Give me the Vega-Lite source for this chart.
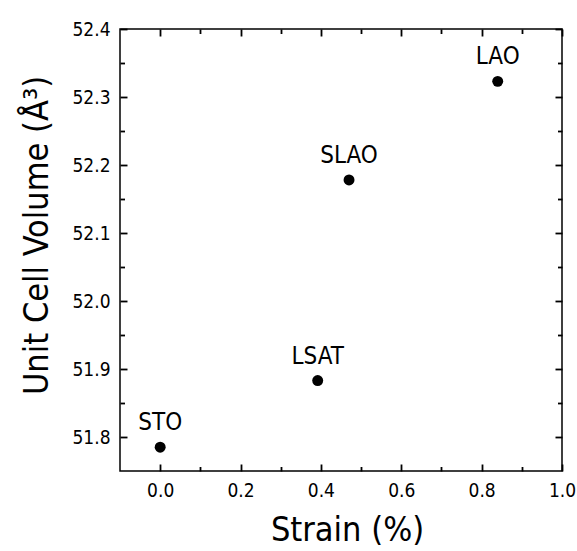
{
  "$schema": "https://vega.github.io/schema/vega-lite/v6.json",
  "width": 442,
  "height": 442,
  "autosize": {"type": "none"},
  "padding": {"left": 120, "top": 29, "right": 15, "bottom": 80},
  "background": "white",
  "config": {
    "view": {"stroke": "black", "strokeWidth": 1.5},
    "font": "DejaVu Sans Condensed, Liberation Sans, sans-serif",
    "axis": {
      "labelFont": "DejaVu Sans Condensed, Liberation Sans, sans-serif",
      "titleFont": "DejaVu Sans Condensed, Liberation Sans, sans-serif",
      "labelColor": "black",
      "titleColor": "black",
      "grid": false,
      "labelFlush": false,
      "labelOverlap": false
    }
  },
  "data": {
    "values": [
      {"label": "STO", "strain": 0.0, "volume": 51.785},
      {"label": "LSAT", "strain": 0.392, "volume": 51.883},
      {"label": "SLAO", "strain": 0.47, "volume": 52.178},
      {"label": "LAO", "strain": 0.84, "volume": 52.323}
    ]
  },
  "layer": [
    {
      "mark": {"type": "circle", "size": 120, "color": "black", "opacity": 1},
      "encoding": {
        "x": {
          "field": "strain", "type": "quantitative",
          "scale": {"domain": [-0.1, 1.0], "nice": false, "zero": false},
          "axis": {
            "orient": "bottom",
            "ticks": true, "tickSize": -7, "tickColor": "#000000", "tickWidth": 1.8,
            "domain": false,
            "title": "Strain (%)",
            "titleFontSize": 34,
            "titleFontWeight": "normal",
            "titleX": 227,
            "titleY": 69,
            "titleBaseline": "alphabetic",
            "titleAnchor": null,
            "titleAlign": "center",
            "labelFontSize": 19,
            "labelPadding": 17,
            "values": [0, 0.2, 0.4, 0.6, 0.8, 1.0],
            "format": ".1f"
          }
        },
        "y": {
          "field": "volume", "type": "quantitative",
          "scale": {"domain": [51.75, 52.4], "nice": false, "zero": false},
          "axis": {
            "orient": "left",
            "ticks": true, "tickSize": -7, "tickColor": "#000000", "tickWidth": 1.8,
            "domain": false,
            "title": "Unit Cell Volume (Å³)",
            "titleFontSize": 34,
            "titleFontWeight": "normal",
            "titleX": -73,
            "titleY": 206,
            "titleAngle": -90,
            "titleBaseline": "alphabetic",
            "titleAnchor": null,
            "titleAlign": "center",
            "labelFontSize": 19,
            "labelPadding": 17,
            "values": [51.8, 51.9, 52.0, 52.1, 52.2, 52.3, 52.4],
            "format": ".1f"
          }
        }
      }
    },
    {
      "mark": {"type": "text", "dy": -17, "baseline": "alphabetic", "align": "center", "fontSize": 24, "color": "black"},
      "encoding": {
        "x": {
          "field": "strain", "type": "quantitative",
          "scale": {"domain": [-0.1, 1.0], "nice": false, "zero": false},
          "axis": {
            "orient": "top",
            "ticks": true, "tickSize": -7, "tickColor": "#000000", "tickWidth": 1.8,
            "domain": false, "title": null, "labels": false,
            "values": [0, 0.2, 0.4, 0.6, 0.8, 1.0]
          }
        },
        "y": {
          "field": "volume", "type": "quantitative",
          "scale": {"domain": [51.75, 52.4], "nice": false, "zero": false},
          "axis": {
            "orient": "right",
            "ticks": true, "tickSize": -7, "tickColor": "#000000", "tickWidth": 1.8,
            "domain": false, "title": null, "labels": false,
            "values": [51.8, 51.9, 52.0, 52.1, 52.2, 52.3, 52.4]
          }
        },
        "text": {"field": "label", "type": "nominal"}
      }
    },
    {
      "mark": {"type": "circle", "opacity": 0},
      "encoding": {
        "x": {
          "field": "strain", "type": "quantitative",
          "scale": {"domain": [-0.1, 1.0], "nice": false, "zero": false},
          "axis": {
            "orient": "bottom",
            "ticks": true, "tickSize": -4.5, "tickColor": "#000000", "tickWidth": 1.8,
            "domain": false, "title": null, "labels": false,
            "values": [0.1, 0.3, 0.5, 0.7, 0.9]
          }
        },
        "y": {
          "field": "volume", "type": "quantitative",
          "scale": {"domain": [51.75, 52.4], "nice": false, "zero": false},
          "axis": {
            "orient": "left",
            "ticks": true, "tickSize": -4.5, "tickColor": "#000000", "tickWidth": 1.8,
            "domain": false, "title": null, "labels": false,
            "values": [51.85, 51.95, 52.05, 52.15, 52.25, 52.35]
          }
        }
      }
    },
    {
      "mark": {"type": "circle", "opacity": 0},
      "encoding": {
        "x": {
          "field": "strain", "type": "quantitative",
          "scale": {"domain": [-0.1, 1.0], "nice": false, "zero": false},
          "axis": {
            "orient": "top",
            "ticks": true, "tickSize": -4.5, "tickColor": "#000000", "tickWidth": 1.8,
            "domain": false, "title": null, "labels": false,
            "values": [0.1, 0.3, 0.5, 0.7, 0.9]
          }
        },
        "y": {
          "field": "volume", "type": "quantitative",
          "scale": {"domain": [51.75, 52.4], "nice": false, "zero": false},
          "axis": {
            "orient": "right",
            "ticks": true, "tickSize": -4.5, "tickColor": "#000000", "tickWidth": 1.8,
            "domain": false, "title": null, "labels": false,
            "values": [51.85, 51.95, 52.05, 52.15, 52.25, 52.35]
          }
        }
      }
    }
  ],
  "resolve": {"axis": {"x": "independent", "y": "independent"}}
}
